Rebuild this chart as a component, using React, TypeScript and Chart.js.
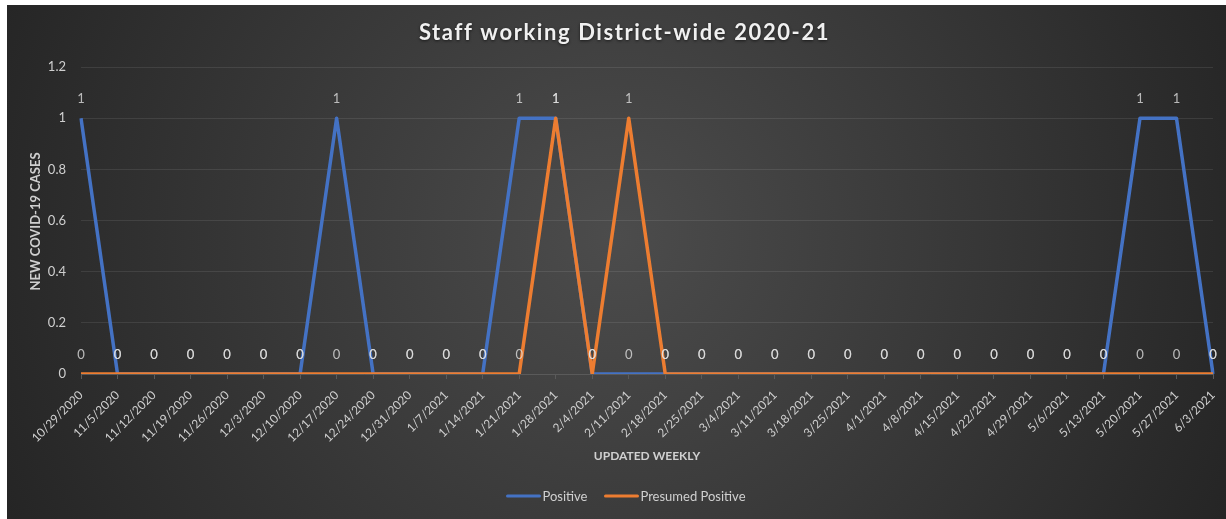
import React, { useEffect, useRef } from "react";
import { Chart, registerables } from "chart.js";

Chart.register(...registerables);

const categories: string[] = [
  "10/29/2020", "11/5/2020", "11/12/2020", "11/19/2020", "11/26/2020", "12/3/2020",
  "12/10/2020", "12/17/2020", "12/24/2020", "12/31/2020", "1/7/2021", "1/14/2021",
  "1/21/2021", "1/28/2021", "2/4/2021", "2/11/2021", "2/18/2021", "2/25/2021",
  "3/4/2021", "3/11/2021", "3/18/2021", "3/25/2021", "4/1/2021", "4/8/2021",
  "4/15/2021", "4/22/2021", "4/29/2021", "5/6/2021", "5/13/2021", "5/20/2021",
  "5/27/2021", "6/3/2021",
];

const positive: number[] = [
  1, 0, 0, 0, 0, 0, 0, 1, 0, 0, 0, 0, 1, 1, 0, 0, 0, 0, 0, 0, 0, 0, 0, 0, 0, 0, 0, 0, 0, 1, 1, 0,
];

const presumedPositive: number[] = [
  0, 0, 0, 0, 0, 0, 0, 0, 0, 0, 0, 0, 0, 1, 0, 1, 0, 0, 0, 0, 0, 0, 0, 0, 0, 0, 0, 0, 0, 0, 0, 0,
];

const yTicks: number[] = [0, 0.2, 0.4, 0.6, 0.8, 1, 1.2];

const TITLE = "Staff working District-wide 2020-21";
const Y_TITLE = "NEW COVID-19 CASES";
const X_TITLE = "UPDATED WEEKLY";
const FONT = "Lato, 'Open Sans', sans-serif";

const BLUE = "#4472C4";
const ORANGE = "#ED7D31";

const decorPlugin = {
  id: "decor",
  beforeDraw(chart: any) {
    const { ctx, width, height } = chart;
    ctx.save();
    const g = ctx.createRadialGradient(width * 0.5, height * 0.45, 0, width * 0.5, height * 0.45, width * 0.62);
    g.addColorStop(0, "#4c4c4c");
    g.addColorStop(1, "#202020");
    ctx.fillStyle = g;
    ctx.fillRect(0, 0, width, height);
    ctx.restore();
  },
  afterDatasetsDraw(chart: any) {
    const { ctx, chartArea } = chart;
    ctx.save();
    // data labels
    ctx.font = `13px ${FONT}`;
    ctx.textAlign = "center";
    ctx.textBaseline = "middle";
    ctx.fillStyle = "rgba(225,225,225,0.78)";
    chart.data.datasets.forEach((ds: any, di: number) => {
      const meta = chart.getDatasetMeta(di);
      meta.data.forEach((pt: any, i: number) => {
        ctx.fillText(String(ds.data[i]), pt.x, pt.y - 19);
      });
    });

    // Title
    ctx.fillStyle = "#f0f0f0";
    ctx.font = `bold 22px ${FONT}`;
    (ctx as any).letterSpacing = "1.6px";
    ctx.shadowColor = "rgba(0,0,0,0.6)";
    ctx.shadowBlur = 3;
    ctx.shadowOffsetY = 1;
    ctx.textAlign = "center";
    ctx.fillText(TITLE, chart.width / 2 + 8, 28);
    ctx.shadowColor = "transparent";
    (ctx as any).letterSpacing = "0px";

    // Y title
    ctx.fillStyle = "#d0d0d0";
    ctx.font = `bold 13px ${FONT}`;
    ctx.save();
    ctx.translate(29, (chartArea.top + chartArea.bottom) / 2 + 1);
    ctx.rotate(-Math.PI / 2);
    ctx.fillText(Y_TITLE, 0, 0);
    ctx.restore();

    // X title
    ctx.font = `bold 12px ${FONT}`;
    ctx.fillText(X_TITLE, (chartArea.left + chartArea.right) / 2, 451);

    // Legend (Positive first)
    const items = [
      { label: chart.data.datasets[1].label, color: chart.data.datasets[1].borderColor },
      { label: chart.data.datasets[0].label, color: chart.data.datasets[0].borderColor },
    ];
    ctx.font = `13px ${FONT}`;
    ctx.textAlign = "left";
    const lineW = 34;
    const gap = 2;
    const itemGap = 17;
    let total = 0;
    items.forEach((it, k) => {
      total += lineW + gap + ctx.measureText(it.label).width + (k < items.length - 1 ? itemGap : 0);
    });
    let x = 619 - total / 2;
    const y = 491;
    items.forEach((it) => {
      ctx.strokeStyle = it.color;
      ctx.lineWidth = 3;
      ctx.lineCap = "round";
      ctx.beginPath();
      ctx.moveTo(x + 1, y);
      ctx.lineTo(x + lineW - 1, y);
      ctx.stroke();
      ctx.fillStyle = "#d0d0d0";
      ctx.fillText(it.label, x + lineW + gap, y + 1);
      x += lineW + gap + ctx.measureText(it.label).width + itemGap;
    });
    ctx.restore();
  },
};

export default function App() {
  const ref = useRef<HTMLCanvasElement | null>(null);

  useEffect(() => {
    if (!ref.current) return;
    const chart = new Chart(ref.current, {
      type: "line",
      data: {
        labels: categories,
        datasets: [
          {
            label: "Presumed Positive",
            data: presumedPositive,
            borderColor: ORANGE,
            backgroundColor: ORANGE,
            borderWidth: 3.5,
            pointRadius: 0,
            tension: 0,
            borderJoinStyle: "round",
          },
          {
            label: "Positive",
            data: positive,
            borderColor: BLUE,
            backgroundColor: BLUE,
            borderWidth: 3.5,
            pointRadius: 0,
            tension: 0,
            borderJoinStyle: "round",
          },
        ],
      },
      options: {
        animation: false,
        responsive: false,
        maintainAspectRatio: false,
        layout: { padding: { left: 0, right: 13, top: 62, bottom: 0 } },
        plugins: {
          legend: { display: false },
          title: { display: false },
          tooltip: { enabled: false },
        },
        scales: {
          x: {
            offset: false,
            grid: {
              drawOnChartArea: false,
              drawTicks: true,
              tickLength: 5,
              color: "#5a5a5a",
            },
            border: { display: true, color: "#5a5a5a" },
            ticks: {
              color: "#cfcfcf",
              font: { family: FONT, size: 12 },
              minRotation: 45,
              maxRotation: 45,
              autoSkip: false,
              padding: 9,
            },
            afterFit(scale: any) {
              scale.height = 145;
              scale.paddingLeft = 0;
              scale.paddingRight = 0;
            },
          },
          y: {
            min: 0,
            max: 1.2,
            afterBuildTicks(scale: any) {
              scale.ticks = yTicks.map((v) => ({ value: v }));
            },
            grid: {
              color: "rgba(255,255,255,0.09)",
              drawTicks: false,
            },
            border: { display: false },
            ticks: {
              color: "#cfcfcf",
              font: { family: FONT, size: 13 },
              padding: 15,
              callback: (v: any) => String(Math.round(Number(v) * 10) / 10),
            },
            afterFit(scale: any) {
              scale.width = 74;
              scale.paddingTop = 0;
              scale.paddingBottom = 0;
            },
          },
        },
      },
      plugins: [decorPlugin],
    } as any);
    return () => chart.destroy();
  }, []);

  return (
    <div style={{ position: "absolute", left: 7, top: 5, width: 1219, height: 514 }}>
      <canvas ref={ref} width={1219} height={514} style={{ display: "block", width: 1219, height: 514 }} />
    </div>
  );
}
